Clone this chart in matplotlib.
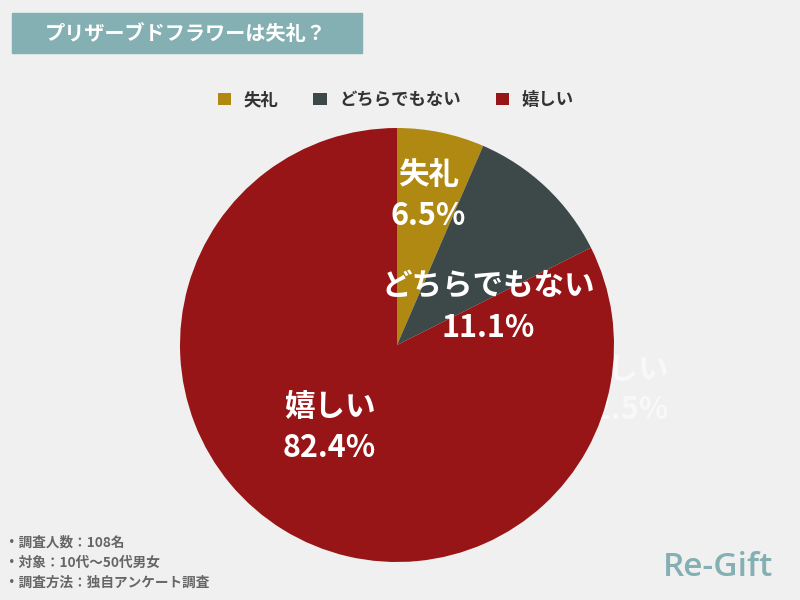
import matplotlib.pyplot as plt
from matplotlib.patches import Rectangle

plt.rcParams['font.family'] = ['Noto Sans CJK JP', 'DejaVu Sans']

# データ
labels = ['失礼', 'どちらでもない', '嬉しい']
values = [6.5, 11.1, 82.4]
colors = ['#b08912', '#3d4849', '#971516']
notes = ['・調査人数：108名', '・対象：10代～50代男女', '・調査方法：独自アンケート調査']

bg = '#f0f0f0'
teal = '#84b0b3'

fig = plt.figure(figsize=(8, 6), dpi=100, facecolor=bg)

# タイトル帯
fig.patches.append(Rectangle((12 / 800, 1 - 53 / 600), 350 / 800, 40 / 600,
                             transform=fig.transFigure, color=teal, zorder=0))
fig.text(186 / 800, 1 - 33 / 600, 'プリザーブドフラワーは失礼？', color='white',
         fontsize=14.5, fontweight='bold', ha='center', va='center')

# 円グラフ
ax = fig.add_axes([180 / 800, 38 / 600, 434 / 800, 434 / 600])
ax.set_facecolor(bg)
wedges, _ = ax.pie(values, colors=colors, startangle=90, counterclock=False,
                   radius=1.0, wedgeprops=dict(linewidth=0))
ax.set_xlim(-1, 1)
ax.set_ylim(-1, 1)
ax.set_aspect('equal')
ax.axis('off')

# ラベル（各要素の位置）
pos = [(0.145, 0.69), (0.42, 0.175), (-0.31, -0.38)]
for (x, y), lab, v in zip(pos, labels, values):
    ax.text(x, y + 0.095, lab, color='white', fontsize=22, fontweight='bold',
            ha='center', va='center')
    ax.text(x, y - 0.095, f'{v}%', color='white', fontsize=22, fontweight='bold',
            ha='center', va='center')

# 背景に隠れたラベル
ax.text(1.04, -0.115, labels[2], color='#f8f8f8', fontsize=22, fontweight='bold',
        ha='center', va='center', zorder=0)
ax.text(1.04, -0.30, '82.5%', color='#f8f8f8', fontsize=22, fontweight='bold',
        ha='center', va='center', zorder=0)

# 凡例
leg = fig.legend(wedges, labels, loc='center', bbox_to_anchor=(396 / 800, 1 - 100 / 600),
                 ncol=3, frameon=False, handlelength=0.75, handleheight=0.75,
                 handletextpad=0.75, columnspacing=2.0,
                 prop=dict(size=12.5, weight='bold'))
for t in leg.get_texts():
    t.set_color('#333333')

# 注記
for i, n in enumerate(notes):
    fig.text(5 / 800, 1 - (543 + i * 20) / 600, n, color='#666666', fontsize=9.8,
             fontweight='bold', ha='left', va='center')

fig.text(718 / 800, 1 - 567 / 600, 'Re-Gift', color=teal, fontsize=24,
         family='Open Sans', fontweight='semibold', ha='center', va='center')

fig.savefig('out.png', dpi=100, facecolor=bg)
